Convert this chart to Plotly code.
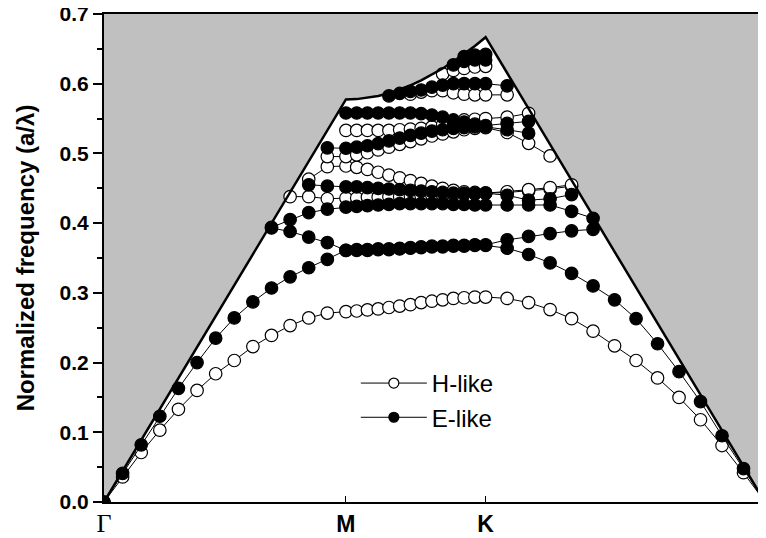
import numpy as np
import plotly.graph_objects as go

# ---- k-path (hexagonal lattice): segment lengths in units of 2*pi/a ----
SEGMENTS = [1 / np.sqrt(3), 1 / 3, 2 / 3]     # Gamma-M, M-K, K-Gamma
STEPS = 13                                     # k-points per segment
GAMMA = '<span style="font-family:Liberation Serif;font-size:26px">\u0393</span>'
TICK_LABELS = [GAMMA, '<b>M</b>', '<b>K</b>', GAMMA]

N = None
# Light line (a/lambda) along the path, 40 k-points
LIGHT_LINE = [0, 0.0444, 0.0888, 0.1332, 0.1777, 0.2221, 0.2665, 0.3109, 0.3553, 0.3997, 0.4442, 0.4886, 0.5330, 0.5774,
              0.5779, 0.5797, 0.5825, 0.5864, 0.5914, 0.5975, 0.6047, 0.6128, 0.6218, 0.6317, 0.6424, 0.6540, 0.6667,
              0.6154, 0.5641, 0.5128, 0.4615, 0.4103, 0.3590, 0.3077, 0.2564, 0.2051, 0.1538, 0.1026, 0.0513, 0]

# H-like bands (open symbols)
H1 = [0, 0.036, 0.071, 0.103, 0.133, 0.160, 0.184, 0.203, 0.223, 0.239, 0.253, 0.264, 0.271, 0.273,
      0.274, 0.2755, 0.277, 0.279, 0.281, 0.283, 0.286, 0.288, 0.290, 0.292, 0.293, 0.294, 0.294,
      0.292, 0.286, 0.276, 0.263, 0.245, 0.224, 0.203, 0.178, 0.150, 0.118, 0.081, 0.042, 0.0]
H2 = [N] * 10 + [0.438, 0.438, 0.435, 0.436,
      0.436, 0.437, 0.437, 0.438, 0.438, 0.439, 0.439, 0.440, 0.440, 0.441, 0.442, 0.442, 0.443,
      0.444, 0.446, 0.449, 0.453] + [N] * 9
H3 = [N] * 11 + [0.463, 0.481, 0.482,
      0.480, 0.477, 0.473, 0.469, 0.465, 0.461, 0.457, 0.453, 0.450, 0.447, 0.445, 0.444, 0.443,
      0.445, 0.448, 0.451, 0.455] + [N] * 9
H4 = [N] * 12 + [0.4955, 0.4955,
      0.498, 0.501, 0.505, 0.509, 0.513, 0.517, 0.521, 0.525, 0.528, 0.531, 0.534, 0.536, 0.537,
      0.530, 0.5145, 0.4964] + [N] * 10
H5 = [N] * 13 + [0.533,
      0.533, 0.533, 0.533, 0.533, 0.534, 0.535, 0.536, 0.538, 0.541, 0.545, 0.548, 0.549, 0.550,
      0.552, 0.5575] + [N] * 11
H6 = [N] * 19 + [0.585, 0.588, 0.590, 0.590, 0.587, 0.585, 0.584, 0.584,
                 0.584] + [N] * 12
H7 = [N] * 22 + [0.614, 0.619, 0.622, 0.624, 0.625] + [N] * 13

# E-like bands (filled symbols)
E1 = [0, 0.041, 0.082, 0.123, 0.163, 0.200, 0.235, 0.264, 0.287, 0.307, 0.323, 0.336, 0.348, 0.361,
      0.361, 0.361, 0.362, 0.362, 0.363, 0.364, 0.365, 0.366, 0.366, 0.367, 0.367, 0.368, 0.368,
      0.364, 0.355, 0.343, 0.328, 0.310, 0.290, 0.263, 0.227, 0.187, 0.144, 0.095, 0.048, 0.0]
E2 = [N] * 9 + [0.393, 0.388, 0.380, 0.372, 0.361,
      0.362, 0.362, 0.363, 0.363, 0.364, 0.365, 0.366, 0.367, 0.367, 0.368, 0.368, 0.369, 0.369,
      0.376, 0.381, 0.385, 0.389, 0.391] + [N] * 8
E3 = [N] * 9 + [0.394, 0.405, 0.415, 0.420, 0.423,
      0.424, 0.425, 0.426, 0.427, 0.428, 0.428, 0.428, 0.428, 0.428, 0.427, 0.427, 0.426, 0.426,
      0.426, 0.426, 0.426, 0.417, 0.407] + [N] * 8
E4 = [N] * 11 + [0.455, 0.453, 0.452,
      0.452, 0.451, 0.450, 0.449, 0.448, 0.447, 0.446, 0.445, 0.444, 0.443, 0.443, 0.443, 0.443,
      0.440, 0.433, 0.435, 0.441] + [N] * 9
E5 = [N] * 12 + [0.508, 0.5074,
      0.509, 0.511, 0.514, 0.518, 0.522, 0.526, 0.529, 0.532, 0.534, 0.536, 0.537, 0.538, 0.538,
      0.534, 0.529] + [N] * 11
E6 = [N] * 13 + [0.558,
      0.558, 0.558, 0.558, 0.558, 0.558, 0.558, 0.557, 0.555, 0.552, 0.548, 0.545, 0.542, 0.540,
      0.543, 0.546] + [N] * 11
E7 = [N] * 17 + [0.5825, 0.586, 0.589, 0.591, 0.595, 0.598, 0.600, 0.600, 0.600, 0.600,
                 0.597] + [N] * 12
E8 = [N] * 23 + [0.627, 0.632, 0.634, 0.634] + [N] * 13
E9 = [N] * 24 + [0.639, 0.641, 0.642] + [N] * 13

H_BANDS = [H1, H2, H3, H4, H5, H6, H7]
E_BANDS = [E1, E2, E3, E4, E5, E6, E7, E8, E9]

# ---- k positions from the path ----
nodes = np.concatenate([[0], np.cumsum(SEGMENTS)])
kx = [0.0]
for a, b in zip(nodes[:-1], nodes[1:]):
    kx.extend(np.linspace(a, b, STEPS + 1)[1:].tolist())
kx = np.array(kx)
YMAX = 0.7

FONT = "Liberation Sans"
fig = go.Figure()

# gray region above the light line
fig.add_trace(go.Scatter(
    x=list(kx) + [kx[-1], kx[0]], y=LIGHT_LINE + [YMAX, YMAX],
    fill="toself", fillcolor="#c0c0c0", line=dict(width=0),
    mode="lines", hoverinfo="skip", showlegend=False))

def band_trace(vals, filled):
    return go.Scatter(
        x=kx, y=vals, mode="lines+markers", showlegend=False,
        line=dict(color="black", width=1),
        marker=dict(symbol="circle", size=12.5,
                    color="black" if filled else "white",
                    line=dict(color="black", width=1.2)))

for b in H_BANDS:
    fig.add_trace(band_trace(b, False))
for b in E_BANDS:
    fig.add_trace(band_trace(b, True))

# light line
fig.add_trace(go.Scatter(x=kx, y=LIGHT_LINE, mode="lines",
                         line=dict(color="black", width=2.5),
                         showlegend=False, hoverinfo="skip"))

# legend entries
fig.add_trace(go.Scatter(x=[None], y=[None], mode="lines+markers", name="H-like",
                         line=dict(color="black", width=1),
                         marker=dict(size=10, color="white", line=dict(color="black", width=1.2))))
fig.add_trace(go.Scatter(x=[None], y=[None], mode="lines+markers", name="E-like",
                         line=dict(color="black", width=1),
                         marker=dict(size=10, color="black", line=dict(color="black", width=1.2))))

# page body has an 8px margin: the figure is placed at (8, 8) in the window
fig.update_layout(
    width=766, height=538,
    margin=dict(l=96, r=9, t=6, b=44),
    paper_bgcolor="white", plot_bgcolor="white",
    font=dict(family=FONT, color="black"),
    legend=dict(x=0.381, y=0.289, xanchor="left", yanchor="top",
                bgcolor="rgba(0,0,0,0)", font=dict(size=24, family=FONT),
                itemwidth=66, tracegroupgap=0),
    xaxis=dict(range=[0, nodes[-1]], tickvals=nodes.tolist(), ticktext=TICK_LABELS,
               ticks="inside", ticklen=6, tickcolor="black", tickwidth=1,
               tickfont=dict(size=23, family=FONT), automargin=False,
               ticklabelstandoff=0, ticklabeloverflow="allow",
               showline=True, linecolor="black", linewidth=2, mirror=True,
               showgrid=False, zeroline=False),
    yaxis=dict(range=[0, YMAX], dtick=0.1, tickformat=".1f",
               ticks="outside", ticklen=9, tickcolor="black", tickwidth=1.5,
               tickfont=dict(size=21, family=FONT, weight="bold"), automargin=False,
               ticklabeloverflow="allow",
               minor=dict(dtick=0.05, ticks="outside", ticklen=5, tickcolor="black", showgrid=False),
               title=dict(text="Normalized frequency (a/\u03bb)",
                          font=dict(size=24, family=FONT, weight="bold"), standoff=18),
               showline=True, linecolor="black", linewidth=2, mirror=True,
               showgrid=False, zeroline=False),
)

fig.write_html("out.html")
